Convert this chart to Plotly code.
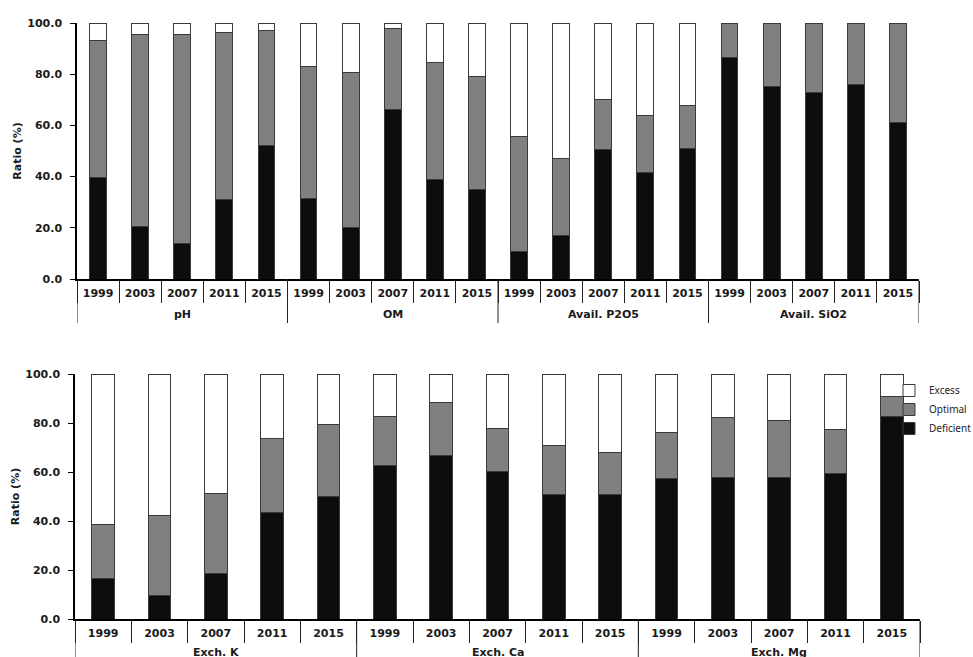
import plotly.graph_objects as go
from plotly.subplots import make_subplots

years = ["1999", "2003", "2007", "2011", "2015"]
top_groups = ["pH", "OM", "Avail. P2O5", "Avail. SiO2"]
bottom_groups = ["Exch. K", "Exch. Ca", "Exch. Mg"]

top_deficient = [39.7, 20.7, 13.9, 30.9, 52.3,
                 31.5, 20.3, 66.4, 38.9, 34.9,
                 10.8, 16.9, 50.7, 41.7, 51.0,
                 86.5, 75.3, 72.7, 75.8, 61.1]
top_optimal = [53.4, 74.7, 81.5, 65.2, 44.7,
               51.7, 60.5, 31.6, 45.5, 44.3,
               44.7, 30.3, 19.3, 22.1, 16.9,
               13.5, 24.7, 27.3, 24.2, 38.9]
top_excess = [6.9, 4.6, 4.6, 3.9, 3.0,
              16.8, 19.2, 2.0, 15.6, 20.8,
              44.5, 52.8, 30.0, 36.2, 32.1,
              0.0, 0.0, 0.0, 0.0, 0.0]

bottom_deficient = [16.4, 9.5, 18.7, 43.5, 50.1,
                    62.8, 66.7, 60.2, 51.0, 50.8,
                    57.2, 57.6, 57.8, 59.2, 82.7]
bottom_optimal = [22.3, 32.9, 32.5, 30.3, 29.4,
                  19.9, 21.7, 17.7, 19.9, 17.3,
                  18.9, 24.5, 23.1, 18.2, 8.3]
bottom_excess = [61.3, 57.6, 48.8, 26.2, 20.5,
                 17.3, 11.6, 22.1, 29.1, 31.9,
                 23.9, 17.9, 19.1, 22.6, 9.0]

series_names = ["Deficient", "Optimal", "Excess"]
series_colors = ["#0d0d0d", "#808080", "#ffffff"]

H = 657
W = 973
AX_FONT = "DejaVu Sans, Verdana, sans-serif"
LINE_COL = "#222222"

fig = make_subplots(rows=2, cols=1)

panels = [
    dict(row=1, groups=top_groups, data=[top_deficient, top_optimal, top_excess],
         xdom=[77 / W, 919 / W], ydom=[1 - 279 / H, 1 - 23 / H], xref="x", legend=False,
         label_off=36),
    dict(row=2, groups=bottom_groups, data=[bottom_deficient, bottom_optimal, bottom_excess],
         xdom=[75 / W, 920 / W], ydom=[1 - 619 / H, 1 - 374 / H], xref="x2", legend=True,
         label_off=33),
]

for p in panels:
    n_years = len(years)
    n = len(p["groups"]) * n_years
    pos = list(range(n))
    labels = [years[i % n_years] for i in pos]
    for name, color, vals in zip(series_names, series_colors, p["data"]):
        fig.add_trace(go.Bar(x=pos, y=vals, name=name, marker_color=color,
                             marker_line=dict(color="#3a3a3a", width=1),
                             customdata=[p["groups"][i // n_years] for i in pos],
                             hovertemplate="%{customdata} %{text}<br>" + name + ": %{y:.1f}%<extra></extra>",
                             text=labels, textposition="none",
                             showlegend=p["legend"]), row=p["row"], col=1)
    fig.update_xaxes(domain=p["xdom"], range=[-0.5, n - 0.5],
                     tickmode="array", tickvals=pos, ticktext=labels,
                     row=p["row"], col=1)
    fig.update_yaxes(domain=p["ydom"], row=p["row"], col=1)
    y_axis = p["ydom"][0]
    # group dividers (category-group boundaries of the axis)
    for g in range(len(p["groups"]) + 1):
        fig.add_shape(type="line", xref=p["xref"], yref="paper",
                      x0=g * n_years - 0.5, x1=g * n_years - 0.5,
                      y0=y_axis, y1=y_axis - 44 / H,
                      line=dict(color=LINE_COL, width=1))
    # group labels
    for g, gname in enumerate(p["groups"]):
        fig.add_annotation(xref=p["xref"], yref="paper",
                           x=g * n_years + (n_years - 1) / 2, y=y_axis - p["label_off"] / H,
                           text=gname, showarrow=False, yanchor="middle", xanchor="center",
                           font=dict(size=11, family=AX_FONT, weight="bold", color="#1a1a1a"))

fig.update_layout(
    width=W, height=H,
    margin=dict(l=0, r=0, t=0, b=0, autoexpand=False),
    barmode="stack", bargap=0.6,
    plot_bgcolor="white", paper_bgcolor="white",
    font=dict(family=AX_FONT, color="#1a1a1a"),
    legend=dict(x=889 / W, y=1 - 376 / H, xanchor="left", yanchor="top",
                traceorder="reversed",
                font=dict(family="Noto Sans, Open Sans, sans-serif", size=10, color="#222"),
                itemwidth=30, tracegroupgap=0, bgcolor="rgba(0,0,0,0)"),
)

fig.update_xaxes(showline=True, linecolor="black", linewidth=1.5, showgrid=False, zeroline=False,
                 ticks="", ticklabelstandoff=3,
                 minor=dict(ticks="outside", ticklen=22, tick0=-0.5, dtick=1,
                            tickcolor=LINE_COL, tickwidth=1, showgrid=False),
                 tickfont=dict(size=11, family=AX_FONT, weight="bold", color="#1a1a1a"),
                 automargin=False)

fig.update_yaxes(range=[0, 100], dtick=20, tickformat=".1f", showline=True, linecolor="black",
                 linewidth=1.5, ticks="outside", ticklen=5, tickcolor="black", showgrid=False,
                 zeroline=False, ticklabelstandoff=6,
                 tickfont=dict(size=11, family=AX_FONT, weight="bold", color="#1a1a1a"),
                 title=dict(text="Ratio (%)", standoff=3,
                            font=dict(size=11, family=AX_FONT, weight="bold", color="#1a1a1a")),
                 automargin=False)

fig.write_html("out.html", config={"displayModeBar": False},
               post_script="document.body.style.margin='0';")
